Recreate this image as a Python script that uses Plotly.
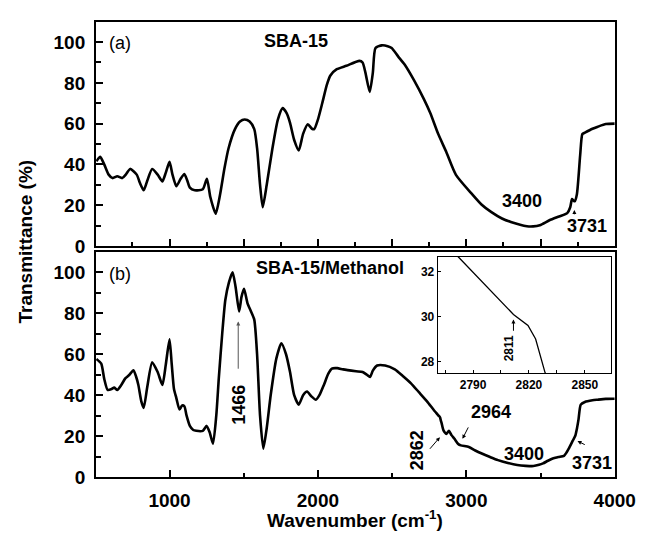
import plotly.graph_objects as go

# (a) SBA-15 -- wavenumber (cm-1) / transmittance (%)
wn_a = [507, 533, 560, 590, 616, 648, 681, 705, 735, 779, 800, 826, 850, 883, 920, 952, 975,
        1000, 1020, 1046, 1075, 1100, 1120, 1137, 1170, 1224, 1252, 1275, 1311, 1340, 1370,
        1397, 1441, 1475, 1506, 1540, 1571, 1590, 1610, 1628, 1655, 1693, 1730, 1762, 1790,
        1812, 1840, 1871, 1900, 1932, 1960, 1975, 2000, 2029, 2060, 2084, 2127, 2192, 2279,
        2301, 2320, 2349, 2370, 2388, 2431, 2470, 2497, 2540, 2583, 2648, 2714, 2757, 2810,
        2865, 2930, 3039, 3100, 3169, 3240, 3300, 3408, 3450, 3495, 3560, 3625, 3680, 3700,
        3712, 3722, 3730, 3745, 3767, 3782, 3799, 3850, 3886, 3940, 4000]
tr_a = [41.5, 43.7, 40, 35, 33.3, 34.2, 33.3, 35, 37.8, 35, 31, 27.3, 32, 37.8, 35, 31.7, 36,
        41.3, 35, 29.3, 33, 35.3, 32, 28.6, 27.3, 27.8, 33, 24, 15.8, 25, 38,
        47.7, 57.3, 61, 62, 61, 57.3, 48, 30, 19, 30, 47.7, 62, 67.6, 65,
        60.4, 52, 46.9, 55, 59.7, 57.5, 57.3, 62, 70, 79, 83.6, 86.7, 88.4, 90.8,
        90, 85, 75.6, 85, 97.1, 98.4, 98, 97.1, 93, 89.1, 81.2, 72, 65.2, 55,
        46.1, 34.9, 25.4, 20.5, 16.6, 13.5, 11.8, 9.7, 9.6, 10.2, 12.6, 14.5, 16.1, 19,
        23, 22.3, 21.9, 25.4, 44.5, 54.9, 55.6, 57.5, 58.5, 59.8, 60]

# (b) SBA-15/Methanol
wn_b = [507, 540, 560, 583, 610, 627, 648, 675, 702, 730, 757, 775, 790, 810, 826, 850, 883,
        920, 952, 975, 1000, 1015, 1030, 1046, 1067, 1085, 1100, 1115, 1137, 1160, 1180, 1224,
        1250, 1270, 1293, 1315, 1332, 1355, 1376, 1400, 1425, 1445, 1469, 1485, 1502, 1525,
        1549, 1571, 1590, 1610, 1632, 1655, 1682, 1720, 1754, 1785, 1812, 1840, 1871, 1900,
        1927, 1955, 1986, 2010, 2040, 2070, 2094, 2130, 2170, 2257, 2301, 2330, 2351, 2370,
        2399, 2453, 2518, 2570, 2627, 2680, 2735, 2782, 2797, 2811.7, 2819.5, 2823.6, 2828.7,
        2833, 2845, 2855, 2865, 2883, 2900, 2920, 2945, 2963, 3017, 3060, 3104, 3160, 3213,
        3280, 3343, 3400, 3452, 3490, 3517, 3550, 3582, 3620, 3658, 3675, 3690, 3717, 3734,
        3746, 3756, 3771, 3799, 3850, 3886, 3940, 4000]
tr_b = [57.7, 55.4, 48, 42.6, 43, 43.7, 42.6, 45, 48.2, 50, 52.2, 49, 45, 37, 33.8, 44, 56.1,
        51.3, 45, 55, 67.3, 55, 43, 38.6, 33, 35, 34.6, 30, 25, 23, 22.6, 22.6,
        25, 22, 16.3, 30, 48.2, 70, 86.5, 95, 100, 93, 80.9, 88, 92, 85,
        80.9, 76.9, 60, 30, 13.9, 24, 40.2, 58, 65.4, 60, 51.3, 40, 35.4, 40,
        41.8, 39.5, 37.8, 40, 45, 50.5, 53, 53.2, 52.6, 51.7, 51.3, 50, 48.9, 52,
        54.5, 54.5, 52.6, 49.5, 45.8, 41.5, 37, 32.65, 31.38, 30.09, 29.6, 29.0, 27.5,
        26.5, 23, 21.8, 21.1, 22.6, 20.5, 18.7, 16.2, 15.5, 14.7, 13, 11.5, 9.8, 8.3,
        6.9, 5.9, 5.5, 5.4, 6, 6.7, 8, 9.1, 9.8, 10.4, 12, 13.9, 17.8, 20.2,
        24, 28.2, 35.4, 36.7, 37.5, 37.8, 38.2, 38.3]

FONT = "Arial, Liberation Sans, sans-serif"
W, H = 650, 533

fig = go.Figure()
fig.add_trace(go.Scatter(x=wn_a, y=tr_a, mode="lines", xaxis="x", yaxis="y",
                         line=dict(color="black", width=2.6, shape="spline", smoothing=0.6)))
fig.add_trace(go.Scatter(x=wn_b, y=tr_b, mode="lines", xaxis="x2", yaxis="y2",
                         line=dict(color="black", width=2.6, shape="spline", smoothing=0.6)))
fig.add_trace(go.Scatter(x=wn_b, y=tr_b, mode="lines", xaxis="x3", yaxis="y3",
                         line=dict(color="black", width=1.3)))

frame = dict(showline=True, mirror=True, linecolor="black", linewidth=2, showgrid=False,
             zeroline=False, ticks="inside", tickwidth=2, ticklen=7, tickcolor="black",
             tickfont=dict(family=FONT, size=19, color="black", weight="bold"))
xdom = [91 / W, 627 / W]

fig.update_layout(
    width=W, height=H, showlegend=False,
    margin=dict(l=0, r=0, t=0, b=0),
    paper_bgcolor="white", plot_bgcolor="white",
    xaxis=dict(frame, domain=xdom, anchor="y", range=[505, 4000], showticklabels=False,
               tick0=0, dtick=500,
               minor=dict(dtick=250, ticks="inside", ticklen=4, tickwidth=2, tickcolor="black")),
    yaxis=dict(frame, domain=[1 - 243 / H, 1 - 14 / H], anchor="x", range=[0, 110],
               tick0=0, dtick=20, ticklabelstandoff=5,
               minor=dict(dtick=10, ticks="inside", ticklen=5, tickwidth=2, tickcolor="black")),
    xaxis2=dict(frame, domain=xdom, anchor="y2", range=[505, 4000], tick0=0, dtick=1000,
                ticklabelstandoff=5,
                minor=dict(dtick=500, ticks="inside", ticklen=4, tickwidth=2, tickcolor="black")),
    yaxis2=dict(frame, domain=[1 - 479 / H, 1 - 249 / H], anchor="x2", range=[0, 110],
                tick0=0, dtick=20, ticklabelstandoff=5,
                minor=dict(dtick=10, ticks="inside", ticklen=5, tickwidth=2, tickcolor="black")),
    xaxis3=dict(showline=True, mirror=True, linecolor="black", linewidth=1, showgrid=False,
                zeroline=False, domain=[444 / W, 623 / W], anchor="y3", range=[2771, 2864],
                tick0=2790, dtick=30, ticks="inside", ticklen=3, tickwidth=1, tickcolor="black",
                tickfont=dict(family=FONT, size=12, color="black", weight="bold"),
                minor=dict(dtick=15, ticks="inside", ticklen=3, tickwidth=1, tickcolor="black")),
    yaxis3=dict(showline=True, mirror=True, linecolor="black", linewidth=1, showgrid=False,
                zeroline=False, domain=[1 - 373 / H, 1 - 254 / H], anchor="x3",
                range=[27.48, 32.65], tick0=28, dtick=2, ticks="inside", ticklen=3,
                tickwidth=1, tickcolor="black",
                tickfont=dict(family=FONT, size=12, color="black", weight="bold")),
)

bold = dict(family=FONT, size=18, color="black", weight="bold")
notes = [
    # panel labels
    dict(x=665, y=99.5, xref="x", yref="y", text="(a)",
         font=dict(family=FONT, size=18, color="black")),
    dict(x=1854, y=100.5, xref="x", yref="y", text="SBA-15", font=bold),
    dict(x=665, y=99.3, xref="x2", yref="y2", text="(b)",
         font=dict(family=FONT, size=18, color="black")),
    dict(x=2082, y=101.9, xref="x2", yref="y2", text="SBA-15/Methanol", font=bold),
    # band labels, panel (a)
    dict(x=3378, y=22, xref="x", yref="y", text="3400", font=bold),
    dict(x=3814, y=9.6, xref="x", yref="y", text="3731", font=bold),
    # band labels, panel (b)
    dict(x=1463, y=35.4, xref="x2", yref="y2", text="1466", textangle=-90, font=bold),
    dict(x=2665, y=12.9, xref="x2", yref="y2", text="2862", textangle=-90, font=bold),
    dict(x=3169, y=32, xref="x2", yref="y2", text="2964", font=bold),
    dict(x=3391, y=11.5, xref="x2", yref="y2", text="3400", font=bold),
    dict(x=3847, y=6.7, xref="x2", yref="y2", text="3731", font=bold),
    # inset label
    dict(x=2809.1, y=28.57, xref="x3", yref="y3", text="2811", textangle=-90,
         font=dict(family=FONT, size=12, color="black", weight="bold")),
    # axis titles
    dict(x=18 / W, y=1 - 238 / H, xref="paper", yref="paper", text="Transmittance (%)",
         textangle=-90, font=dict(family=FONT, size=19, color="black", weight="bold")),
    dict(x=359 / W, y=1 - 522 / H, xref="paper", yref="paper",
         text="Wavenumber (cm<sup>-1</sup>)",
         font=dict(family=FONT, size=19, color="black", weight="bold")),
]
for n in notes:
    fig.add_annotation(showarrow=False, xanchor="center", yanchor="middle", **n)

# arrows: (head x, head y, tail x, tail y, axes, colour, width)
arrows = [
    (3728, 17.7, 3728, 14.8, "", "black", 1),
    (1463, 76, 1463, 52.2, "2", "#555555", 1),
    (2822, 19.5, 2746, 13.1, "2", "black", 1),
    (2974, 18.7, 3018, 25, "2", "black", 1),
    (3749, 17.6, 3808, 15.5, "2", "black", 1),
    (2811.7, 29.87, 2811.7, 29.3, "3", "black", 1),
]
for hx, hy, tx, ty, ax_id, col, w in arrows:
    fig.add_annotation(x=hx, y=hy, ax=tx, ay=ty, xref="x" + ax_id, yref="y" + ax_id,
                       axref="x" + ax_id, ayref="y" + ax_id, text="", showarrow=True,
                       arrowhead=2, arrowsize=0.8, arrowwidth=w, arrowcolor=col)

fig.write_html("out.html")
